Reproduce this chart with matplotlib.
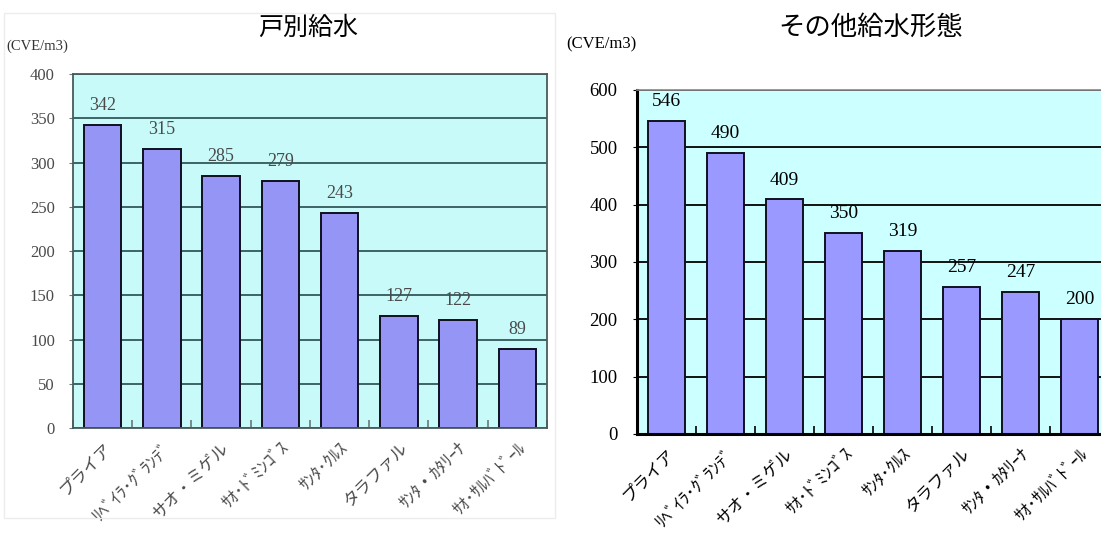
import numpy as np
import matplotlib
matplotlib.use('Agg')
import matplotlib.pyplot as plt
from matplotlib.patches import Rectangle

# districts (same order in both panels)
districts = ['プライア', 'ﾘﾍﾞｲﾗ･ｸﾞﾗﾝﾃﾞ', 'サオ・ミゲル', 'ｻｵ･ﾄﾞﾐﾝｺﾞｽ',
             'ｻﾝﾀ･ｸﾙｽ', 'タラファル', 'ｻﾝﾀ・ｶﾀﾘｰﾅ', 'ｻｵ･ｻﾙﾊﾞﾄﾞｰﾙ']

# CVE per m3
house_conn = [342, 315, 285, 279, 243, 127, 122, 89]
other_supply = [546, 490, 409, 350, 319, 257, 247, 200]

house_ticks = list(range(0, 401, 50))
other_ticks = list(range(0, 601, 100))

JP = ['Noto Sans CJK JP', 'DejaVu Sans']
SERIF = ['Liberation Serif', 'DejaVu Serif']

fig = plt.figure(figsize=(11.01, 5.34), dpi=100)

# faint frame of the left (scanned) panel
fig.patches.append(Rectangle((0.004, 0.03), 0.50, 0.945, transform=fig.transFigure,
                             fill=False, edgecolor='#ececec', linewidth=1.0))


def label_size(name):
    # half-width kana run narrower, so give them a bigger size
    half = sum(1 for c in name if '\uff61' <= c <= '\uff9f')
    return 12.5 if half > len(name) / 2 else 12


def draw_panel(ax, values, yticks, bar_col, bg, grid_col, text_col, tick_size, val_size, ypad):
    x = np.arange(len(values))
    ax.set_facecolor(bg)
    ax.set_axisbelow(True)
    ax.yaxis.grid(True, color=grid_col, linewidth=1.4)
    bars = ax.bar(x, values, width=0.63, color=bar_col, edgecolor='#101020', linewidth=1.4)
    for b, v in zip(bars, values):
        ax.annotate(str(v), (b.get_x() + b.get_width() / 2, v), xytext=(0, 14),
                    textcoords='offset points', ha='center', va='center',
                    fontsize=val_size, family=SERIF, color=text_col)
    ax.set_xlim(-0.5, len(values) - 0.5)
    ax.set_ylim(yticks[0], yticks[-1])
    ax.set_yticks(yticks)
    ax.set_yticklabels([str(t) for t in yticks], family=SERIF, fontsize=tick_size, color=text_col)
    ax.set_xticks(x)
    ax.set_xticklabels(districts, rotation=45, ha='right', va='top',
                       rotation_mode='anchor', family=JP, color=text_col)
    for lab, name in zip(ax.get_xticklabels(), districts):
        lab.set_fontsize(label_size(name))
    ax.set_xticks(np.arange(-0.5, len(values)), minor=True)
    ax.tick_params(axis='x', which='major', length=0, pad=8)
    ax.tick_params(axis='x', which='minor', direction='in', length=6, width=1.2)
    ax.tick_params(axis='y', length=3, pad=ypad)
    return bars


# left panel: house connections
ax1 = fig.add_axes([0.0663, 0.1985, 0.4305, 0.6629])
draw_panel(ax1, house_conn, house_ticks, '#9595f5', '#c8fafa', '#3d6464', '#4a4a4a', 12, 13, 10)
for s in ax1.spines.values():
    s.set_color('#4a5a5a')
    s.set_linewidth(1.3)
ax1.tick_params(axis='both', which='both', color='#6a7a7a')

# right panel: other supply types
ax2 = fig.add_axes([0.5786, 0.1873, 0.4287, 0.6442])
draw_panel(ax2, other_supply, other_ticks, '#9999ff', '#ccffff', '#111111', 'black', 13.5, 14, 11)
ax2.spines['left'].set_linewidth(2.2)
ax2.spines['bottom'].set_linewidth(2.2)
ax2.spines['top'].set_color('#888888')
ax2.spines['top'].set_linewidth(1.2)
ax2.spines['right'].set_visible(False)

fig.text(308 / 1101, 1 - 28 / 534, '戸別給水', ha='center', va='center',
         family=JP, fontsize=18)
fig.text(871 / 1101, 1 - 27 / 534, 'その他給水形態', ha='center', va='center',
         family=JP, fontsize=19)
fig.text(6 / 1101, 1 - 46 / 534, '(CVE/m3)', ha='left', va='center',
         family=SERIF, fontsize=10.5, color='#333333')
fig.text(566 / 1101, 1 - 44 / 534, '(CVE/m3)', ha='left', va='center',
         family=SERIF, fontsize=12)

fig.savefig('out.png', dpi=100)
